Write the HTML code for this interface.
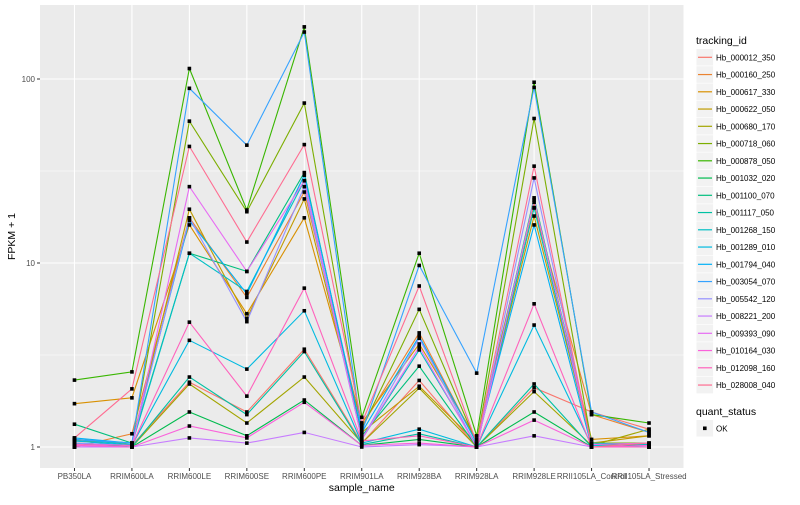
<!DOCTYPE html>
<html><head><meta charset="utf-8"><style>
body{margin:0;background:#fff;}
svg text{font-family:"Liberation Sans",sans-serif;}
</style></head><body>
<svg id="chart" width="800" height="500" xmlns="http://www.w3.org/2000/svg"></svg>
<script>
const categories=["PB350LA","RRIM600LA","RRIM600LE","RRIM600SE","RRIM600PE","RRIM901LA","RRIM928BA","RRIM928LA","RRIM928LE","RRII105LA_Control","RRII105LA_Stressed"];
const seriesNames=["Hb_000012_350","Hb_000160_250","Hb_000617_330","Hb_000622_050","Hb_000680_170","Hb_000718_060","Hb_000878_050","Hb_001032_020","Hb_001100_070","Hb_001117_050","Hb_001268_150","Hb_001289_010","Hb_001794_040","Hb_003054_070","Hb_005542_120","Hb_008221_200","Hb_009393_090","Hb_010164_030","Hb_012098_160","Hb_028008_040"];
const seriesColors=["#F8766D","#EA8331","#D89000","#C09B00","#A3A500","#7CAE00","#39B600","#00BB4E","#00BF7D","#00C1A3","#00BFC4","#00BAE0","#00B0F6","#35A2FF","#9590FF","#C77CFF","#E76BF3","#FA62DB","#FF62BC","#FF6C91"];
const s0=[1.05,1.02,2.25,1.55,3.4,1.05,2.3,1.0,2.1,1.55,1.25];
const s1=[1.0,1.18,17.6,6.5,24.3,1.3,4.17,1.05,20,1.5,1.2];
const s2=[1.72,1.85,16.1,5.3,17.6,1.35,3.63,1.1,21.4,1.1,1.15];
const s3=[1.08,1.05,19.6,5.0,22.3,1.2,2.14,1.05,18,1.05,1.15];
const s4=[1.0,1.0,2.2,1.35,2.4,1.05,2.09,1.0,2.0,1.02,1.25];
const s5=[1.1,1.05,59,19,74,1.25,5.6,1.05,61,1.05,1.05];
const s6=[2.31,2.56,114,19.4,192,1.45,11.3,1.15,96,1.5,1.35];
const s7=[1.0,1.0,1.55,1.15,1.8,1.02,1.1,1.0,1.55,1.0,1.0];
const s8=[1.33,1.05,11.3,9.0,31,1.15,2.75,1.0,22.6,1.03,1.02];
const s9=[1.05,1.0,2.4,1.5,3.3,1.03,1.18,1.0,2.2,1.0,1.0];
const s10=[1.1,1.03,11.3,7.0,28,1.1,3.37,1.02,19.9,1.05,1.03];
const s11=[1.08,1.02,3.8,2.65,5.5,1.05,1.25,1.0,4.6,1.02,1.0];
const s12=[1.12,1.05,17,6.8,30,1.2,4.0,1.05,16.1,1.0,1.0];
const s13=[1.1,1.05,89,43.7,180,1.2,9.7,2.52,90,1.55,1.2];
const s14=[1.05,1.02,17.6,4.8,26,1.1,3.9,1.0,29,1.0,1.0];
const s15=[1.0,1.0,1.12,1.05,1.2,1.0,1.03,1.0,1.15,1.0,1.0];
const s16=[1.02,1.0,26,9,28,1.1,3.5,1.0,22,1.03,1.05];
const s17=[1.02,1.0,1.3,1.12,1.75,1.02,1.05,1.0,1.4,1.0,1.02];
const s18=[1.03,1.02,4.77,1.89,7.3,1.08,1.15,1.0,6.0,1.0,1.0];
const s19=[1.12,2.07,43,13,44,1.35,7.5,1.05,33.6,1.0,1.05];
const seriesValues=[s0,s1,s2,s3,s4,s5,s6,s7,s8,s9,s10,s11,s12,s13,s14,s15,s16,s17,s18,s19];
const yTicks=[1,10,100];
const yMinor=[Math.sqrt(10),Math.sqrt(1000)];

const NS="http://www.w3.org/2000/svg";
const svg=document.getElementById('chart');
const P={l:40,r:683.5,t:5,b:468};
const step=(P.r-P.l)/(categories.length-1+1.2);
function xs(i){return P.l+step*(0.6+i);}
function ys(v){return 447-184*Math.log10(v);}
function mk(tag,attrs,parent){const e=document.createElementNS(NS,tag);for(const k in attrs)e.setAttribute(k,attrs[k]);(parent||svg).appendChild(e);return e;}

const panel=mk('rect',{x:P.l,y:P.t,width:P.r-P.l,height:P.b-P.t,fill:'#EBEBEB'});


yMinor.forEach(v=>{const l=mk('line',{x1:P.l,x2:P.r,y1:ys(v),y2:ys(v),stroke:'#fff','stroke-width':0.6});

});
yTicks.forEach(v=>{const l=mk('line',{x1:P.l,x2:P.r,y1:ys(v),y2:ys(v),stroke:'#fff','stroke-width':1.1});


mk('line',{x1:P.l-3,x2:P.l,y1:ys(v),y2:ys(v),stroke:'#333','stroke-width':1});
const t=mk('text',{x:P.l-5,y:ys(v)+3,'text-anchor':'end','font-size':8,fill:'#4D4D4D'});t.textContent=v;

});
categories.forEach((c,i)=>{const l=mk('line',{x1:xs(i),x2:xs(i),y1:P.t,y2:P.b,stroke:'#fff','stroke-width':1.1});


mk('line',{x1:xs(i),x2:xs(i),y1:P.b,y2:P.b+3,stroke:'#333','stroke-width':1});
const t=mk('text',{x:xs(i),y:P.b+11,'text-anchor':'middle','font-size':8,fill:'#4D4D4D'});t.textContent=c;

});

seriesValues.forEach((vals,si)=>{
 const d=vals.map((v,i)=>(i?'L':'M')+xs(i).toFixed(1)+' '+ys(v).toFixed(1)).join(' ');
 const p=mk('path',{d:d,fill:'none',stroke:seriesColors[si],'stroke-width':1.1});
 
 
});
seriesValues.forEach((vals,si)=>{vals.forEach((v,i)=>{
 const r=mk('rect',{x:xs(i)-1.8,y:ys(v)-1.8,width:3.6,height:3.6,fill:'#000'});
 
 
});});

const xt=mk('text',{x:(P.l+P.r)/2,y:491,'text-anchor':'middle','font-size':10.5,fill:'#000'});xt.textContent='sample_name';


const yt=mk('text',{x:0,y:0,'text-anchor':'middle','font-size':10.5,fill:'#000',transform:'translate(15,'+((P.t+P.b)/2)+') rotate(-90)'});yt.textContent='FPKM + 1';



const lt=mk('text',{x:696,y:44,'font-size':10.5,fill:'#000'});lt.textContent='tracking_id';


seriesNames.forEach((n,i)=>{const cy=57.3+i*17.25;
 const g=mk('g',{});
 
 
 mk('rect',{x:696.5,y:cy-8.3,width:16.6,height:16.6,fill:'#F2F2F2'},g);
 mk('line',{x1:698,x2:712,y1:cy,y2:cy,stroke:seriesColors[i],'stroke-width':1.2},g);
 const t=mk('text',{x:716,y:cy+3,'font-size':8,fill:'#000'},g);t.textContent=n;});
const qt=mk('text',{x:696,y:415,'font-size':10.5,fill:'#000'});qt.textContent='quant_status';


const qg=mk('g',{});


mk('rect',{x:696.5,y:420,width:16.6,height:16.6,fill:'#F2F2F2'},qg);
mk('rect',{x:703,y:426.5,width:3.6,height:3.6,fill:'#000'},qg);
const ok=mk('text',{x:716,y:431.5,'font-size':8,fill:'#000'},qg);ok.textContent='OK';
</script>
</body></html>
